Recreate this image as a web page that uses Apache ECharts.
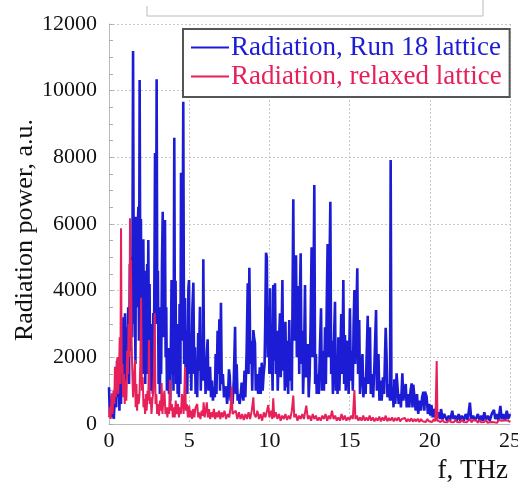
<!DOCTYPE html>
<html><head><meta charset="utf-8">
<script src="https://cdn.jsdelivr.net/npm/echarts@6/dist/echarts.min.js"></script>
<style>html,body{margin:0;padding:0;background:#fff}#c{width:518px;height:490px}</style>
</head><body><div id="c"></div>
<script>
var xTicks = [0, 5, 10, 15, 20, 25];
var yTicks = [0, 2000, 4000, 6000, 8000, 10000, 12000];
var seriesNames = ['Radiation, Run 18 lattice', 'Radiation, relaxed lattice'];
var axisTitles = ['f, THz', 'Radiation power, a.u.'];

var blueData = [
[0.00,1100],[0.05,300],[0.10,600],[0.15,200],[0.20,900],[0.25,400],[0.30,150],[0.35,700],[0.40,1200],[0.45,500],
[0.50,1900],[0.55,800],[0.60,2000],[0.65,400],[0.70,1500],[0.75,600],[0.80,2500],[0.85,900],[0.90,3200],[0.95,1500],
[1.00,3320],[1.05,800],[1.10,2900],[1.15,1800],[1.20,3500],[1.25,1200],[1.30,4800],[1.35,2200],[1.40,5000],[1.45,2600],
[1.50,11190],[1.55,3000],[1.60,5000],[1.65,1800],[1.68,6220],[1.73,3500],[1.78,5600],[1.83,6520],[1.87,2500],[1.91,10320],
[1.95,4000],[1.99,6150],[2.03,2200],[2.07,5000],[2.10,1500],[2.14,5540],[2.18,2800],[2.22,4600],[2.26,1200],[2.30,3900],
[2.34,2000],[2.38,4800],[2.41,1500],[2.45,5520],[2.49,2400],[2.53,4200],[2.57,1000],[2.61,3000],[2.65,1100],[2.70,2200],
[2.73,900],[2.76,3330],[2.80,1800],[2.84,5200],[2.87,8130],[2.91,3000],[2.94,5600],[2.97,10340],[3.01,3500],[3.05,4600],
[3.09,1200],[3.13,3500],[3.17,900],[3.21,2800],[3.25,1500],[3.30,4700],[3.35,6370],[3.39,2600],[3.45,4500],[3.49,6120],
[3.53,2000],[3.57,3500],[3.61,1000],[3.65,2000],[3.70,2280],[3.74,900],[3.78,1700],[3.82,700],[3.86,2500],[3.90,4320],
[3.94,1500],[3.98,3000],[4.02,1000],[4.07,8590],[4.11,2200],[4.15,4300],[4.19,1200],[4.23,3000],[4.28,900],[4.32,2200],
[4.36,800],[4.40,3600],[4.45,1200],[4.49,7540],[4.53,2500],[4.58,3800],[4.63,9670],[4.68,1800],[4.74,3780],[4.78,1200],
[4.83,2800],[4.88,900],[4.95,4070],[4.99,4320],[5.03,1500],[5.08,2400],[5.13,1000],[5.20,3480],[5.26,4240],[5.31,1500],
[5.36,2300],[5.40,900],[5.45,1900],[5.50,800],[5.56,2730],[5.60,1600],[5.67,3520],[5.72,1000],[5.79,2400],[5.84,1300],
[5.88,4940],[5.93,1500],[5.98,2000],[6.02,900],[6.10,2170],[6.15,2540],[6.20,1000],[6.25,1200],[6.30,1720],[6.36,800],
[6.42,1300],[6.48,700],[6.55,1100],[6.60,800],[6.65,2100],[6.70,900],[6.77,2800],[6.83,1500],[6.88,3140],[6.92,1000],
[6.98,3640],[7.03,1200],[7.10,1500],[7.17,800],[7.24,1000],[7.30,1130],[7.36,600],[7.42,900],[7.48,1640],[7.53,1420],
[7.58,700],[7.63,900],[7.70,600],[7.78,1300],[7.86,2920],[7.91,900],[7.96,1790],[8.02,700],[8.08,900],[8.14,600],
[8.20,800],[8.27,1240],[8.32,1070],[8.38,700],[8.45,1600],[8.50,800],[8.58,2170],[8.65,4220],[8.70,1500],[8.75,4690],
[8.81,1800],[8.87,2500],[8.93,1000],[9.00,2820],[9.05,2570],[9.10,2430],[9.15,1000],[9.22,1500],[9.30,900],[9.36,1300],
[9.40,1700],[9.46,900],[9.52,1840],[9.58,1000],[9.64,1500],[9.70,1800],[9.74,3000],[9.79,5140],[9.84,5000],[9.89,2000],
[9.95,3500],[10.00,1500],[10.04,4070],[10.09,1500],[10.15,2400],[10.20,1000],[10.24,4170],[10.29,1900],[10.35,4220],[10.40,1500],
[10.46,2800],[10.52,1000],[10.60,2500],[10.66,3320],[10.71,1400],[10.76,2700],[10.81,4320],[10.86,1600],[10.92,2600],[10.96,1000],
[11.00,3070],[11.05,1100],[11.11,2500],[11.17,900],[11.24,3120],[11.29,1300],[11.35,2200],[11.40,1000],[11.44,3600],[11.49,6740],
[11.54,2500],[11.60,4000],[11.66,5060],[11.71,2000],[11.76,3500],[11.80,4140],[11.86,1500],[11.90,3800],[11.95,5120],[12.00,1800],
[12.06,2800],[12.10,900],[12.16,2000],[12.22,4170],[12.27,1400],[12.33,2000],[12.40,2400],[12.45,800],[12.51,1500],[12.57,3000],
[12.63,5300],[12.68,2000],[12.75,4000],[12.80,7170],[12.85,1200],[12.90,2100],[12.95,900],[13.02,1500],[13.08,900],[13.15,2300],
[13.22,3470],[13.27,1000],[13.33,2200],[13.40,1000],[13.47,2900],[13.52,1200],[13.58,3800],[13.63,5400],[13.68,2000],[13.74,4500],
[13.80,6670],[13.85,1500],[13.90,2500],[13.96,900],[14.02,2400],[14.09,3670],[14.14,1000],[14.20,2000],[14.25,900],[14.30,2600],
[14.36,1000],[14.42,2000],[14.48,3300],[14.54,1500],[14.61,4320],[14.66,1200],[14.71,2670],[14.76,1000],[14.82,2000],[14.88,2500],
[14.94,900],[15.02,3470],[15.08,1300],[15.14,2200],[15.20,1000],[15.25,3000],[15.30,4020],[15.35,1800],[15.41,3000],[15.48,4670],
[15.53,1500],[15.60,3120],[15.65,900],[15.72,1500],[15.80,2100],[15.86,800],[15.93,1400],[16.00,900],[16.06,2000],[16.13,3250],
[16.18,1200],[16.27,2900],[16.32,900],[16.40,1500],[16.47,800],[16.55,1800],[16.65,3420],[16.70,1000],[16.80,2100],[16.86,700],
[16.93,1300],[17.00,700],[17.08,1400],[17.15,900],[17.25,2890],[17.30,2100],[17.36,800],[17.45,1200],[17.52,700],[17.56,7920],
[17.61,700],[17.68,1100],[17.74,500],[17.79,1340],[17.85,600],[17.93,1520],[18.00,1500],[18.06,600],[18.14,900],[18.20,500],
[18.29,1520],[18.35,700],[18.42,1000],[18.50,1200],[18.56,500],[18.64,900],[18.72,500],[18.80,1000],[18.87,1220],[18.92,500],
[18.97,1180],[19.06,1220],[19.12,400],[19.20,900],[19.28,300],[19.36,700],[19.45,400],[19.52,800],[19.60,970],[19.66,400],
[19.70,970],[19.80,820],[19.88,300],[19.96,600],[20.04,250],[20.10,570],[20.18,200],[20.26,450],[20.34,200],[20.40,500],
[20.48,200],[20.56,350],[20.64,150],[20.70,450],[20.80,150],[20.90,300],[21.00,350],[21.08,100],[21.18,250],[21.26,100],
[21.40,400],[21.48,150],[21.58,250],[21.68,100],[21.80,300],[21.90,100],[22.00,250],[22.12,100],[22.24,300],[22.36,120],
[22.50,640],[22.58,150],[22.70,250],[22.82,100],[23.00,300],[23.10,100],[23.22,250],[23.30,100],[23.40,350],[23.50,120],
[23.62,250],[23.74,100],[23.86,300],[24.00,420],[24.08,150],[24.18,300],[24.28,100],[24.40,540],[24.48,150],[24.58,300],
[24.68,100],[24.80,400],[24.88,150],[25.00,300]
];

var redData = [
[0.00,200],[0.05,500],[0.10,150],[0.17,920],[0.22,300],[0.28,1000],[0.33,600],[0.37,1720],[0.42,800],[0.47,1500],
[0.52,2000],[0.57,900],[0.62,1500],[0.67,2600],[0.71,1200],[0.75,5870],[0.79,1500],[0.84,1800],[0.88,800],[0.93,1500],
[0.98,600],[1.03,1300],[1.08,700],[1.13,2200],[1.18,1500],[1.22,3000],[1.27,2000],[1.31,6170],[1.34,3000],[1.37,4920],
[1.41,2500],[1.45,1600],[1.50,800],[1.55,1300],[1.62,1920],[1.66,500],[1.71,1200],[1.75,400],[1.80,900],[1.85,600],
[1.90,870],[1.95,1800],[2.00,3790],[2.05,1000],[2.10,1400],[2.15,500],[2.20,750],[2.25,300],[2.30,900],[2.35,400],
[2.40,1000],[2.45,700],[2.49,2520],[2.54,600],[2.60,800],[2.65,300],[2.70,700],[2.75,900],[2.80,1500],[2.85,3320],
[2.90,600],[2.95,900],[3.00,300],[3.06,600],[3.12,250],[3.18,700],[3.24,400],[3.28,1230],[3.33,300],[3.40,800],
[3.46,1000],[3.52,300],[3.58,500],[3.64,200],[3.70,500],[3.75,300],[3.80,1330],[3.85,400],[3.92,600],[3.98,200],
[4.04,500],[4.10,200],[4.16,700],[4.22,300],[4.30,600],[4.36,200],[4.42,500],[4.48,300],[4.55,900],[4.60,650],
[4.65,300],[4.70,1000],[4.74,1720],[4.79,400],[4.85,600],[4.92,200],[5.00,550],[5.06,200],[5.12,400],[5.18,150],
[5.25,450],[5.32,200],[5.40,500],[5.50,600],[5.56,200],[5.62,350],[5.70,150],[5.78,400],[5.85,250],[5.90,650],
[5.96,200],[6.03,400],[6.10,650],[6.16,200],[6.24,450],[6.30,150],[6.38,350],[6.46,200],[6.54,450],[6.62,150],
[6.70,350],[6.78,200],[6.86,400],[6.94,150],[7.02,350],[7.10,200],[7.20,400],[7.30,150],[7.40,300],[7.50,200],
[7.58,500],[7.65,1120],[7.70,300],[7.80,250],[7.90,400],[8.00,150],[8.10,350],[8.20,150],[8.30,300],[8.40,120],
[8.50,300],[8.60,150],[8.70,350],[8.80,150],[8.90,400],[9.00,800],[9.05,300],[9.15,200],[9.25,400],[9.35,150],
[9.45,300],[9.55,100],[9.65,350],[9.75,200],[9.85,400],[9.93,570],[10.00,200],[10.10,400],[10.18,150],[10.24,770],
[10.30,200],[10.40,350],[10.50,150],[10.60,300],[10.70,100],[10.80,250],[10.90,150],[11.00,300],[11.10,120],[11.20,250],
[11.30,150],[11.40,400],[11.49,850],[11.55,200],[11.65,300],[11.75,100],[11.85,250],[11.95,150],[12.05,300],[12.15,150],
[12.30,550],[12.40,150],[12.50,250],[12.60,100],[12.70,300],[12.80,150],[12.90,250],[13.00,100],[13.10,200],[13.20,100],
[13.30,250],[13.40,150],[13.50,300],[13.60,100],[13.70,250],[13.80,150],[13.90,400],[14.00,150],[14.10,250],[14.20,100],
[14.30,200],[14.40,100],[14.50,300],[14.60,120],[14.70,250],[14.80,100],[14.90,200],[15.00,120],[15.10,250],[15.20,150],
[15.30,1020],[15.36,150],[15.45,250],[15.55,100],[15.65,200],[15.75,100],[15.85,250],[15.95,100],[16.05,200],[16.15,100],
[16.25,250],[16.35,100],[16.45,200],[16.55,80],[16.65,180],[16.75,100],[16.85,220],[16.95,80],[17.05,200],[17.15,100],
[17.25,250],[17.35,80],[17.45,180],[17.55,100],[17.65,200],[17.75,80],[17.85,180],[17.95,100],[18.05,200],[18.15,80],
[18.25,150],[18.35,100],[18.45,180],[18.55,70],[18.65,150],[18.75,80],[18.85,170],[18.95,70],[19.05,150],[19.15,80],
[19.25,160],[19.35,60],[19.45,150],[19.55,80],[19.65,140],[19.75,60],[19.85,150],[19.95,80],[20.05,130],[20.15,60],
[20.25,150],[20.35,80],[20.43,1890],[20.48,100],[20.58,150],[20.68,60],[20.78,130],[20.88,60],[21.00,120],[21.10,50],
[21.20,140],[21.30,60],[21.40,120],[21.50,50],[21.60,130],[21.70,60],[21.80,110],[21.90,50],[22.00,140],[22.10,60],
[22.20,120],[22.30,50],[22.40,100],[22.50,150],[22.60,50],[22.70,120],[22.80,60],[22.90,110],[23.00,40],[23.10,120],
[23.20,50],[23.30,100],[23.40,60],[23.50,130],[23.60,40],[23.70,100],[23.80,60],[23.90,120],[24.00,50],[24.10,100],
[24.20,40],[24.30,120],[24.40,60],[24.50,100],[24.60,40],[24.70,110],[24.80,60],[24.90,100],[25.00,50]
];

var BLUE = '#1c1cd4', RED = '#e8205a';
var SERIF = 'Liberation Serif';
var chart = echarts.init(document.getElementById('c'), null, {renderer: 'canvas'});
chart.setOption({
  animation: false,
  backgroundColor: '#fff',
  grid: {left: 109, right: 8, top: 24, bottom: 66, containLabel: false, outerBoundsMode: 'none'},
  xAxis: {
    type: 'value', min: xTicks[0], max: xTicks[xTicks.length - 1], interval: 5,
    axisLine: {show: true, lineStyle: {color: '#bbb', width: 1}},
    axisTick: {show: false},
    axisLabel: {fontFamily: SERIF, fontSize: 22, color: '#111', margin: 6,
      formatter: function (v) { return String(v); }},
    splitLine: {show: true, lineStyle: {color: '#c8c8c8', type: [2, 2], width: 1}}
  },
  yAxis: {
    type: 'value', min: yTicks[0], max: yTicks[yTicks.length - 1], interval: 2000,
    axisLine: {show: true, lineStyle: {color: '#bbb', width: 1}},
    axisTick: {show: true, inside: true, length: 4, lineStyle: {color: '#aaa'}},
    minorTick: {show: true, splitNumber: 4, length: 4, lineStyle: {color: '#aaa'}},
    axisLabel: {fontFamily: SERIF, fontSize: 22, color: '#111', margin: 12,
      formatter: function (v) { return String(v); }},
    splitLine: {show: true, lineStyle: {color: '#c8c8c8', type: [2, 2], width: 1}}
  },
  legend: {
    left: 183, top: 29, orient: 'vertical',
    backgroundColor: '#fff', borderColor: '#555', borderWidth: 2, borderRadius: 0,
    padding: [5, 8, 7, 8], itemGap: 2, itemWidth: 38, itemHeight: 2, icon: 'rect',
    textStyle: {fontFamily: SERIF, fontSize: 27, padding: [0, 0, 0, -3]},
    data: [
      {name: seriesNames[0], textStyle: {color: BLUE, fontFamily: SERIF, fontSize: 27}},
      {name: seriesNames[1], textStyle: {color: RED, fontFamily: SERIF, fontSize: 27}}
    ]
  },
  graphic: [
    {type: 'polyline', shape: {points: [[147, 6], [147, 16], [483, 16], [483, 0]]},
     style: {stroke: '#bbb', lineWidth: 1, fill: null}},
    {type: 'text', right: 10, top: 457,
     style: {text: axisTitles[0], fontFamily: SERIF, fontSize: 27, fill: '#111'}},
    {type: 'text', x: 25, y: 230, rotation: Math.PI / 2,
     style: {text: axisTitles[1], fontFamily: SERIF, fontSize: 26, fill: '#111',
       align: 'center', verticalAlign: 'middle'}}
  ],
  series: [
    {name: seriesNames[0], type: 'line', data: blueData, showSymbol: false, symbol: 'none',
     lineStyle: {color: BLUE, width: 2.6}, itemStyle: {color: BLUE}, z: 2},
    {name: seriesNames[1], type: 'line', data: redData, showSymbol: false, symbol: 'none',
     lineStyle: {color: RED, width: 2}, itemStyle: {color: RED}, z: 3}
  ]
});
</script></body></html>
